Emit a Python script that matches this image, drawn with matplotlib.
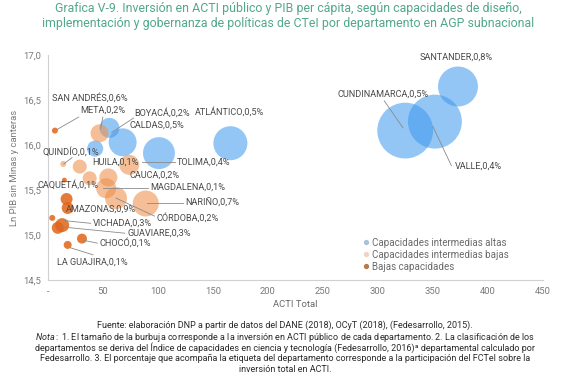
import matplotlib.pyplot as plt
from matplotlib.lines import Line2D
from matplotlib.ticker import FuncFormatter, MultipleLocator

# ------------------------------------------------------------#
# data: ACTI total, ln PIB, bubble size (inversion ACTI publica) #
# ------------------------------------------------------------#
altas_names = ["SANTANDER", "VALLE", "CUNDINAMARCA", "ATLÁNTICO",
               "TOLIMA", "CALDAS", "BOYACÁ", "HUILA"]
altas_acti = [373, 352, 325, 166, 101, 68, 56, 43]
altas_pib = [16.65, 16.26, 16.16, 16.02, 15.91, 16.03, 16.19, 15.96]
altas_inv = [400, 730, 780, 290, 255, 195, 100, 65]

bajas_names = ["META", "QUINDÍO", "RISARALDA", "NORTE DE SANTANDER", "CESAR",
               "CAUCA", "MAGDALENA", "CÓRDOBA", "NARIÑO"]
bajas_acti = [47, 14, 29, 38, 55, 74, 53, 62, 89]
bajas_pib = [16.13, 15.79, 15.76, 15.63, 15.64, 15.78, 15.52, 15.41, 15.35]
bajas_inv = [81, 9, 49, 49, 81, 100, 100, 121, 169]

bajcap_names = ["SAN ANDRÉS", "CAQUETÁ", "AMAZONAS", "PUTUMAYO", "VAUPÉS",
                "VICHADA", "GUAVIARE", "CHOCÓ", "LA GUAJIRA"]
bajcap_acti = [6.4, 15, 17, 18, 4, 13, 9, 31, 18]
bajcap_pib = [16.16, 15.61, 15.40, 15.30, 15.19, 15.11, 15.08, 14.96, 14.89]
bajcap_inv = [9, 6, 36, 36, 9, 49, 36, 25, 16]

series_labels = ["Capacidades intermedias altas",
                 "Capacidades intermedias bajas",
                 "Bajas capacidades"]

x_ticks = [0, 50, 100, 150, 200, 250, 300, 350, 400, 450]
y_ticks = [14.5, 15.0, 15.5, 16.0, 16.5, 17.0]

title_text = ("Grafica V-9. Inversión en ACTI público y PIB per cápita, según "
              "capacidades de diseño,\nimplementación y gobernanza de políticas "
              "de CTeI por departamento en AGP subnacional")

footer_lines = [
    "Fuente: elaboración DNP a partir de datos del DANE (2018), OCyT (2018), "
    "(Fedesarrollo, 2015).",
    r"$\it{Nota:}$ 1. El tamaño de la burbuja corresponde a la inversión en ACTI "
    "público de cada departamento. 2. La clasificación de los",
    "departamentos se deriva del Índice de capacidades en ciencia y tecnología "
    "(Fedesarrollo, 2016)ª departamental calculado por",
    "Fedesarrollo. 3. El porcentaje que acompaña la etiqueta del departamento "
    "corresponde a la participación del FCTeI sobre la",
    "inversión total en ACTI.",
]


def bubble_chart():

    # ================ #
    # plot preparation #
    # ================ #
    plt.rcParams["font.family"] = ["Roboto", "DejaVu Sans"]
    plt.rcParams["mathtext.fontset"] = "custom"
    plt.rcParams["mathtext.it"] = "Roboto:italic"
    plt.rcParams["mathtext.rm"] = "Roboto"

    fig = plt.figure(figsize=(5.7, 3.9), dpi=100, facecolor="white")
    ax = fig.add_axes([0.084, 0.282, 0.868, 0.577])

    c_altas = "#3c98ee"
    c_bajas = "#ee8f4a"
    c_bajcap = "#e06418"
    k = 2.07  # px^2 -> pt^2 for marker size

    ax.scatter(altas_acti, altas_pib, s=[v * k for v in altas_inv],
               color=c_altas, alpha=0.55, lw=0, zorder=2)
    ax.scatter(bajas_acti, bajas_pib, s=[v * k for v in bajas_inv],
               color=c_bajas, alpha=0.58, lw=0, zorder=3)
    ax.scatter(bajcap_acti, bajcap_pib, s=[v * k for v in bajcap_inv],
               color=c_bajcap, alpha=0.85, lw=0, zorder=4)

    # ------------------------------------------------#
    # labels: (text, label pos, leader start -> end)  #
    # ------------------------------------------------#
    labels = [
        ("SANTANDER,0,8%", (338, 16.98), None),
        ("CUNDINAMARCA,0,5%", (263, 16.56), ((306, 16.49), (323, 16.19))),
        ("VALLE,0,4%", (370, 15.77), ((367, 15.77), (350, 16.21))),
        ("ATLÁNTICO,0,5%", (133.6, 16.37), None),
        ("BOYACÁ,0,2%", (79, 16.36), ((78, 16.30), (58, 16.14))),
        ("META,0,2%", (29, 16.39), ((50, 16.31), (48, 16.18))),
        ("CALDAS,0,5%", (74.5, 16.22), None),
        ("SAN ANDRÉS,0,6%", (3.6, 16.53), ((28, 16.31), (8, 16.17))),
        ("QUINDÍO,0,1%", (-4.5, 15.93), ((22, 15.86), (14.5, 15.79))),
        ("HUILA,0,1%", (40, 15.81), None),
        ("TOLIMA,0,4%", (117, 15.81), ((115.5, 15.81), (85.5, 15.81))),
        ("CAUCA,0,2%", (74.5, 15.66), None),
        ("CAQUETÁ,0,1%", (-9, 15.56), None),
        ("MAGDALENA,0,1%", (93, 15.53), ((91, 15.52), (50, 15.52))),
        ("NARIÑO,0,7%", (124.5, 15.36), ((122.7, 15.36), (90, 15.36))),
        ("AMAZONAS,0,9%", (16.4, 15.29), None),
        ("CÓRDOBA,0,2%", (99, 15.19), ((97, 15.21), (62, 15.41))),
        ("VICHADA,0,3%", (41, 15.13), ((39, 15.13), (14.5, 15.16))),
        ("GUAVIARE,0,3%", (72, 15.02), ((70, 15.02), (12.7, 15.09))),
        ("CHOCÓ,0,1%", (47, 14.91), ((45, 14.91), (32.7, 14.94))),
        ("LA GUAJIRA,0,1%", (8, 14.70), ((41, 14.78), (20, 14.86))),
    ]
    for text, (lx, ly), leader in labels:
        if leader is not None:
            (x0, y0), (x1, y1) = leader
            ax.plot([x0, x1], [y0, y1], color="#8a8a8a", lw=0.6,
                    zorder=5, clip_on=False)
        ax.text(lx, ly, text, fontsize=6.6, color="#4a4a4a",
                ha="left", va="center", zorder=6, clip_on=False)

    # --------------------#
    # axes bounds control #
    # --------------------#
    ax.set_xlim(0, 450)
    ax.set_ylim(14.5, 17.0)
    ax.set_xticks(x_ticks)
    ax.set_yticks(y_ticks)
    ax.xaxis.set_major_formatter(
        FuncFormatter(lambda v, p: "-" if v == 0 else f"{v:.0f}"))
    ax.yaxis.set_major_formatter(
        FuncFormatter(lambda v, p: f"{v:.1f}".replace(".", ",")))
    ax.yaxis.set_minor_locator(MultipleLocator(0.5))
    ax.tick_params(length=0, labelsize=6.8, labelcolor="#7a7a7a", pad=5)

    for side in ("top", "right"):
        ax.spines[side].set_visible(False)
    for side in ("left", "bottom"):
        ax.spines[side].set_color("#d0d0d0")
        ax.spines[side].set_linewidth(0.8)

    ax.set_xlabel("ACTI Total", fontsize=6.8, color="#6a6a6a", labelpad=3)
    ax.set_ylabel("Ln PIB sin Minas y canteras", fontsize=6.8,
                  color="#7a7a7a", labelpad=3)

    # --------#
    # legend  #
    # --------#
    handles = [
        Line2D([], [], ls="", marker="o", ms=2.8, color="#a9c3dc"),
        Line2D([], [], ls="", marker="o", ms=2.8, color="#f2d2c6"),
        Line2D([], [], ls="", marker="o", ms=2.8, color="#b87a48"),
    ]
    ax.legend(handles, series_labels, loc="upper left",
              bbox_to_anchor=(0.624, 0.21), frameon=False, fontsize=7.0,
              labelcolor="#6a6a6a", handletextpad=0.05, labelspacing=0.22,
              borderpad=0, handlelength=1.0)

    # ----------------------#
    # title and footer text #
    # ----------------------#
    fig.text(0.505, 0.958, title_text, ha="center", va="center",
             fontsize=8.9, color="#52a889", linespacing=1.2)

    y_foot = [0.166, 0.137, 0.109, 0.080, 0.052]
    for line, yy in zip(footer_lines, y_foot):
        fig.text(0.5, yy, line, ha="center", va="center", fontsize=6.5,
                 color="#2a2a2a")

    fig.savefig("out.png", dpi=100, facecolor="white")


if __name__ == "__main__":
    bubble_chart()
